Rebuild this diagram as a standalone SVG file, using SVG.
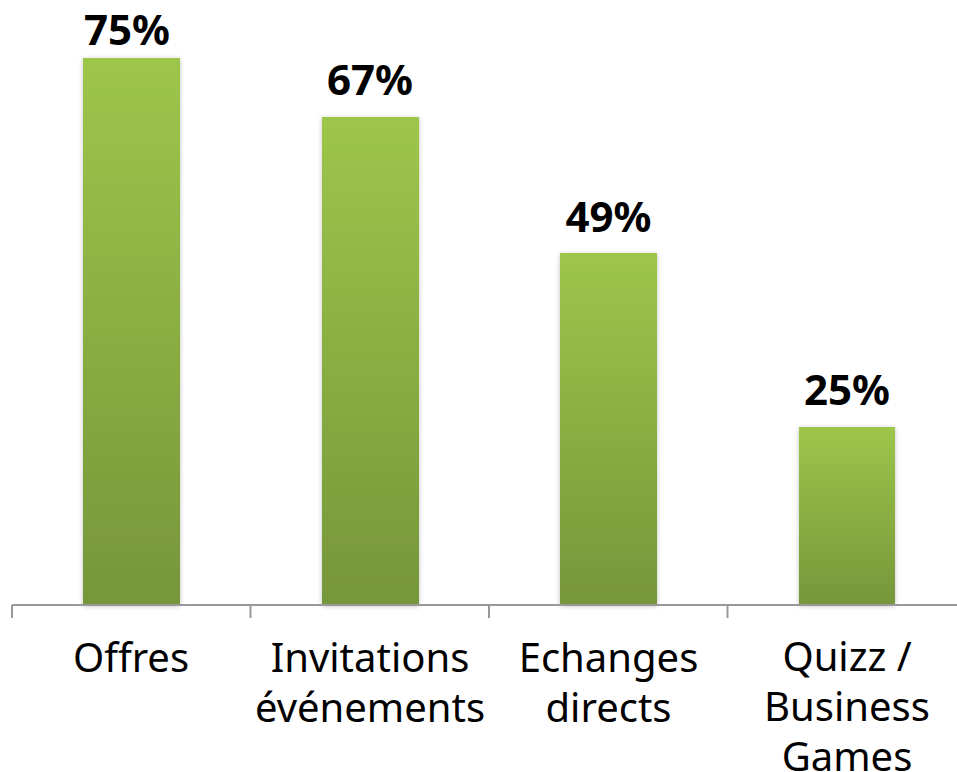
<svg xmlns="http://www.w3.org/2000/svg" width="957" height="772" viewBox="0 0 957 772">
<defs>
<linearGradient id="g" x1="0" y1="0" x2="0" y2="1">
<stop offset="0" stop-color="#9DC64A"/>
<stop offset="1" stop-color="#76963A"/>
</linearGradient>
<filter id="sh" x="-10%" y="-5%" width="120%" height="110%">
<feGaussianBlur in="SourceAlpha" stdDeviation="2.5"/>
<feOffset dx="0" dy="1" result="b"/>
<feComponentTransfer><feFuncA type="linear" slope="0.25"/></feComponentTransfer>
<feMerge><feMergeNode/><feMergeNode in="SourceGraphic"/></feMerge>
</filter>
</defs>
<style>
.bar{fill:url(#g);filter:url(#sh)}
.val{font-family:"Noto Sans","DejaVu Sans",sans-serif;font-weight:bold;font-size:42px;fill:#000;text-anchor:middle}
.cat{font-family:"Noto Sans","DejaVu Sans",sans-serif;font-size:40px;fill:#000;text-anchor:middle}
.ax{stroke:#999;stroke-width:2;fill:none}
</style>
<rect width="957" height="772" fill="#fff"/>
<g id="bar-offres">
<rect class="bar" x="83" y="58" width="97" height="547"/>
<text class="val" x="127" y="45">75%</text>
<text class="cat" x="131" y="672">Offres</text>
</g>
<g id="bar-invitations">
<rect class="bar" x="322" y="117" width="97" height="488"/>
<text class="val" x="370" y="95">67%</text>
<text class="cat" x="370" y="672">Invitations</text>
<text class="cat" x="370" y="722">événements</text>
</g>
<g id="bar-echanges">
<rect class="bar" x="560" y="253" width="97" height="352"/>
<text class="val" x="608.5" y="232">49%</text>
<text class="cat" x="608.5" y="672">Echanges</text>
<text class="cat" x="608.5" y="722">directs</text>
</g>
<g id="bar-quizz">
<rect class="bar" x="799" y="427" width="96" height="178"/>
<text class="val" x="847" y="405">25%</text>
<text class="cat" x="847" y="671">Quizz /</text>
<text class="cat" x="847" y="721">Business</text>
<text class="cat" x="847" y="771">Games</text>
</g>
<g id="axis">
<path class="ax" d="M12 605 H957 M12 605 V618 M250.5 605 V618 M489 605 V618 M727.5 605 V618"/>
</g>
</svg>
